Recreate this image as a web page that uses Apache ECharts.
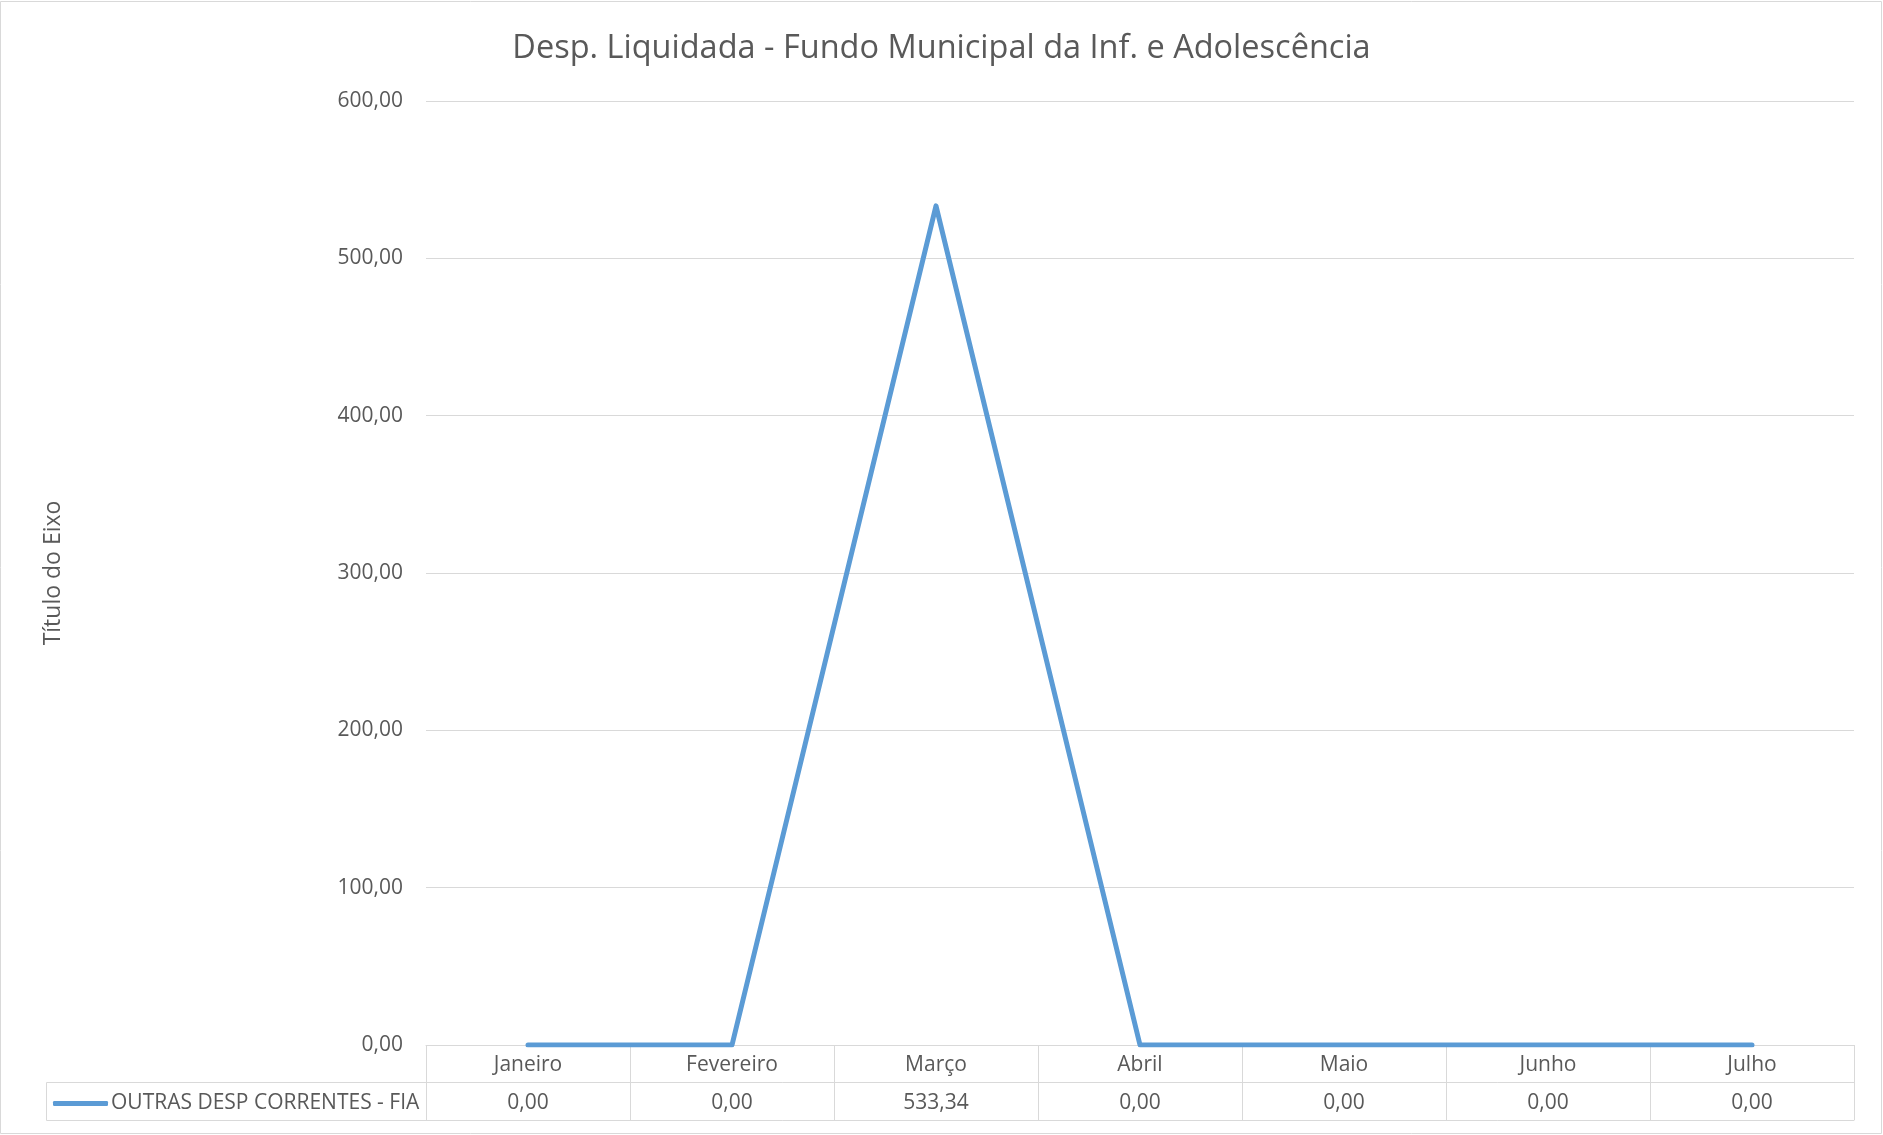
<!DOCTYPE html>
<html>
<head>
<meta charset="utf-8">
<title>Desp. Liquidada - Fundo Municipal da Inf. e Adolescência</title>
<script src="https://cdn.jsdelivr.net/npm/echarts@6/dist/echarts.min.js"></script>
<style>
  html, body { margin: 0; padding: 0; background: #fff; }
  #chart { width: 1883px; height: 1135px; }
</style>
</head>
<body>
<div id="chart"></div>
<script>
// dados do gráfico
const months = ['Janeiro', 'Fevereiro', 'Março', 'Abril', 'Maio', 'Junho', 'Julho']
const outrasDesp = [0, 0, 533.34, 0, 0, 0, 0]
const seriesName = 'OUTRAS DESP CORRENTES - FIA'
const yTicks = [0, 100, 200, 300, 400, 500, 600]

const textColor = '#595959'
const lineColor = '#d9d9d9'
const blue = '#5B9BD5'
const font = '"Open Sans", "Noto Sans", sans-serif'

// formato pt-BR: 533,34
const fmt = v => v.toFixed(2).replace('.', ',')

const chart = echarts.init(document.getElementById('chart'))

const option = {
  animation: false,
  textStyle: { fontFamily: font, color: textColor },
  title: {
    text: 'Desp. Liquidada - Fundo Municipal da Inf. e Adolescência',
    left: 'center',
    top: 27,
    textStyle: { fontFamily: font, fontSize: 32.5, fontWeight: 'normal', color: textColor }
  },
  legend: {
    data: [seriesName],
    left: 53,
    top: 1093,
    icon: 'roundRect',
    itemWidth: 55,
    itemHeight: 5,
    itemGap: 0,
    padding: 0,
    textStyle: { fontFamily: font, fontSize: 21, color: textColor, padding: [0, 0, 0, -2] }
  },
  grid: {
    left: 426,
    right: 29,
    top: 101,
    bottom: 90
  },
  xAxis: [
    {
      type: 'category',
      data: months,
      position: 'bottom',
      axisLine: { show: true, lineStyle: { color: lineColor, width: 1 } },
      axisTick: { show: true, length: 75, lineStyle: { color: lineColor, width: 1 } },
      axisLabel: { fontFamily: font, fontSize: 21, color: textColor, margin: 10 },
      splitLine: { show: false }
    },
    {
      type: 'category',
      data: months,
      position: 'bottom',
      offset: 37,
      axisLine: { show: true, lineStyle: { color: lineColor, width: 1 } },
      axisTick: { show: false },
      axisLabel: {
        fontFamily: font,
        fontSize: 21,
        color: textColor,
        margin: 11,
        formatter: (v, i) => fmt(outrasDesp[i])
      }
    },
    {
      type: 'category',
      data: months,
      position: 'bottom',
      offset: 75,
      axisLine: { show: true, lineStyle: { color: lineColor, width: 1 } },
      axisTick: { show: false },
      axisLabel: { show: false }
    }
  ],
  yAxis: {
    type: 'value',
    min: yTicks[0],
    max: yTicks[yTicks.length - 1],
    interval: 100,
    name: 'Título do Eixo',
    nameLocation: 'middle',
    nameRotate: 90,
    nameGap: 361,
    nameTextStyle: { fontFamily: font, fontSize: 23, color: textColor },
    axisLine: { show: false },
    axisTick: { show: false },
    axisLabel: { fontFamily: font, fontSize: 21, color: textColor, margin: 23, formatter: v => fmt(v) },
    splitLine: { lineStyle: { color: lineColor, width: 1 } }
  },
  series: [
    {
      name: seriesName,
      type: 'line',
      data: outrasDesp,
      symbol: 'none',
      itemStyle: { color: blue },
      lineStyle: { color: blue, width: 5, cap: 'round', join: 'round' }
    }
  ],
  graphic: [
    // célula da legenda na tabela de dados
    {
      type: 'rect',
      shape: { x: 46.5, y: 1082.5, width: 380, height: 38 },
      style: { fill: 'none', stroke: lineColor, lineWidth: 1 },
      silent: true
    },
    // borda externa
    {
      type: 'rect',
      shape: { x: 0.5, y: 1.5, width: 1881, height: 1132 },
      style: { fill: 'none', stroke: lineColor, lineWidth: 1 },
      silent: true,
      z: -1
    }
  ]
}

chart.setOption(option)
</script>
</body>
</html>
